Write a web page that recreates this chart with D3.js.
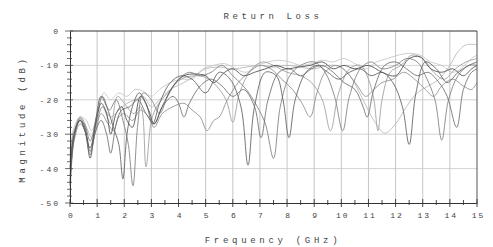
<!DOCTYPE html>
<html>
<head>
<meta charset="utf-8">
<script src="https://cdn.jsdelivr.net/npm/d3@7"></script>
<style>
  body { margin: 0; background: #fff; }
  svg { display: block; }
  text { font-family: "Liberation Mono", "DejaVu Sans Mono", monospace; fill: #444; }
</style>
</head>
<body>
<svg width="493" height="247"></svg>
<script>
// data: [GHz, dB]
var trace1 = [[0,-40],[0.15,-30],[0.37,-26],[0.55,-29],[0.74,-34],[0.95,-27],[1.15,-21],[1.35,-24],[1.5,-30],[1.7,-24],[1.9,-22],[2.1,-26],[2.3,-28],[2.6,-19],[2.9,-23],[3.1,-27],[3.4,-22],[3.8,-16],[4.2,-13],[4.6,-12.5],[5.0,-13],[5.3,-15],[5.7,-12],[6.0,-11],[6.4,-13],[6.8,-12],[7.2,-11],[7.6,-10],[8.0,-11],[8.4,-10.5],[8.85,-10],[9.3,-9],[9.7,-11],[10.1,-10],[10.5,-11],[11.0,-10],[11.5,-12],[12.0,-13],[12.5,-8],[12.9,-7.5],[13.3,-11],[13.7,-12],[14.1,-11],[14.5,-13],[14.8,-11],[15,-10]];
var trace2 = [[0,-45],[0.15,-31],[0.37,-25.5],[0.55,-28],[0.74,-37],[0.95,-26],[1.14,-19],[1.35,-22],[1.6,-28],[1.8,-33],[1.95,-43],[2.1,-30],[2.3,-22],[2.55,-18],[2.8,-21],[3.05,-27],[3.3,-21],[3.7,-15],[4.1,-13],[4.5,-14],[5.0,-18],[5.5,-12],[5.9,-14],[6.3,-22],[6.56,-39],[6.8,-22],[7.2,-12],[7.6,-13],[7.85,-20],[8.07,-31],[8.3,-20],[8.7,-12],[9.1,-10],[9.5,-12],[9.9,-14],[10.3,-12],[10.7,-11],[11.1,-13],[11.5,-12],[11.9,-15],[12.25,-22],[12.5,-33],[12.75,-18],[13.1,-9],[13.5,-11],[13.9,-15],[14.3,-12],[14.7,-10],[15,-9]];
var trace3 = [[0,-42],[0.15,-30],[0.37,-25],[0.55,-27],[0.74,-32],[1.0,-24],[1.2,-19],[1.45,-23],[1.7,-20],[1.95,-26],[2.15,-33],[2.32,-45],[2.5,-27],[2.7,-18],[3.0,-20],[3.3,-24],[3.6,-19],[4.0,-14],[4.4,-12],[4.8,-13],[5.2,-12],[5.6,-10],[6.0,-13],[6.5,-17],[6.9,-22],[7.2,-27],[7.5,-37],[7.75,-22],[8.1,-13],[8.5,-10],[9.0,-9],[9.4,-12],[9.75,-19],[10.05,-29],[10.3,-19],[10.7,-11],[11.1,-9],[11.5,-11],[12.0,-10],[12.4,-8],[12.8,-9],[13.1,-13],[13.45,-20],[13.7,-31.7],[13.95,-20],[14.3,-13],[14.7,-10],[15,-10]];
var trace4 = [[0,-38],[0.15,-29],[0.37,-26],[0.55,-28],[0.74,-35],[0.95,-28],[1.2,-22],[1.5,-27],[1.75,-19],[2.0,-21],[2.35,-24],[2.6,-22],[2.8,-39.5],[3.0,-26],[3.2,-22],[3.6,-18],[4.1,-14],[4.6,-13],[5.0,-13.5],[5.4,-16],[5.75,-20],[6.0,-26.5],[6.25,-18],[6.7,-11],[7.1,-9],[7.5,-10],[8.0,-12],[8.5,-13],[8.9,-15],[9.3,-20],[9.6,-29],[9.9,-18],[10.3,-11],[10.7,-10],[11.0,-14],[11.2,-20],[11.35,-29],[11.5,-20],[11.8,-12],[12.2,-10],[12.6,-7],[13.0,-8],[13.4,-12],[13.8,-14],[14.2,-11],[14.6,-9],[15,-8]];
var trace5 = [[0,-36],[0.15,-29],[0.37,-26],[0.6,-28],[0.8,-31],[1.0,-26],[1.2,-22],[1.5,-25],[1.8,-23],[2.1,-21],[2.4,-20],[2.7,-19],[3.0,-22],[3.3,-20],[3.7,-17],[4.2,-15],[4.6,-13],[5.0,-11],[5.5,-10.5],[6.0,-11],[6.5,-10.5],[7.0,-10],[7.5,-10.5],[8.0,-10],[8.5,-10.5],[9.0,-11],[9.5,-10],[10.0,-10.5],[10.4,-14],[10.8,-20],[11.2,-26],[11.6,-29.7],[12.0,-27],[12.4,-22],[12.8,-18],[13.2,-16],[13.6,-14],[14.0,-10],[14.3,-6],[14.6,-4],[15,-4]];
var trace6 = [[0,-44],[0.15,-31],[0.37,-26],[0.55,-29],[0.74,-36],[0.95,-29],[1.15,-26],[1.35,-30],[1.5,-35.5],[1.7,-27],[1.9,-23],[2.2,-22],[2.5,-20],[2.8,-24],[3.1,-27],[3.4,-22],[3.8,-19],[4.0,-21],[4.2,-25],[4.4,-21],[4.8,-16],[5.2,-14],[5.6,-16],[6.0,-19],[6.4,-17],[6.8,-22],[7.04,-31],[7.3,-20],[7.7,-12],[8.1,-11],[8.5,-13],[8.9,-11],[9.3,-10],[9.7,-12],[10.1,-15],[10.5,-17],[10.8,-22],[10.95,-25],[11.2,-17],[11.6,-10],[12.0,-9],[12.4,-11],[12.8,-13],[13.2,-12],[13.6,-15],[13.9,-19],[14.25,-28],[14.5,-17],[14.8,-12],[15,-11]];
var trace7 = [[0,-48],[0.15,-32],[0.37,-27],[0.55,-29],[0.74,-35],[0.95,-29],[1.15,-24],[1.4,-27],[1.6,-29],[1.8,-25],[2.0,-24],[2.3,-26],[2.6,-23],[2.9,-25],[3.1,-28],[3.4,-24],[3.8,-22],[4.2,-21],[4.5,-23],[4.8,-25],[5.05,-29],[5.3,-26],[5.5,-25],[5.8,-20],[6.2,-15],[6.6,-12],[7.0,-10],[7.4,-11],[7.8,-14],[8.2,-17],[8.55,-21],[8.85,-25],[9.1,-18],[9.4,-12],[9.8,-10],[10.2,-12],[10.6,-16],[10.9,-19],[11.2,-17],[11.5,-15],[11.9,-14],[12.3,-12],[12.7,-14],[13.1,-17],[13.4,-19],[13.7,-16],[14.1,-14],[14.5,-16],[14.8,-17],[15,-15]];
var trace8 = [[0,-35],[0.15,-28],[0.37,-25],[0.6,-26],[0.8,-29],[1.05,-23],[1.25,-18],[1.5,-20],[1.8,-18],[2.1,-19],[2.4,-17],[2.7,-17.5],[3.0,-19],[3.3,-17],[3.7,-15],[4.1,-14],[4.5,-14],[4.9,-11],[5.3,-10],[5.7,-9.5],[6.1,-11],[6.5,-12],[6.9,-10],[7.3,-9],[7.7,-8.5],[8.1,-9],[8.5,-10],[8.9,-9.5],[9.3,-8.5],[9.7,-9],[10.1,-8],[10.5,-9.5],[10.9,-11],[11.3,-9],[11.7,-8],[12.1,-7],[12.5,-6.5],[12.9,-7],[13.3,-9],[13.7,-10],[14.1,-12],[14.4,-11],[14.8,-8],[15,-7]];

var traces = [trace5, trace8, trace4, trace7, trace3, trace6, trace2, trace1];
var traceGrays = ["#bbbbbb", "#c8c8c8", "#a2a2a2", "#939393", "#848484", "#747474", "#666", "#555"];

var xTicks = d3.range(0, 16);
var yTicks = [0, -10, -20, -30, -40, -50];

var svg = d3.select("svg");
var padL = 70, padR = 477, padT = 31, padB = 203;

var x = d3.scaleLinear().domain([0, 15]).range([padL, padR]);
var y = d3.scaleLinear().domain([-50, 0]).range([padB, padT]);

// grid
svg.append("g").selectAll("line").data(xTicks.slice(1, -1)).enter().append("line")
  .attr("x1", d => x(d)).attr("x2", d => x(d))
  .attr("y1", padT).attr("y2", padB)
  .attr("stroke", "#b8b8b8").attr("stroke-width", 0.8);
svg.append("g").selectAll("line").data(yTicks.slice(1, -1)).enter().append("line")
  .attr("x1", padL).attr("x2", padR)
  .attr("y1", d => y(d)).attr("y2", d => y(d))
  .attr("stroke", "#c8c8c8").attr("stroke-width", 0.8);

// traces
var line = d3.line()
  .x(d => x(d[0]))
  .y(d => y(d[1]))
  .curve(d3.curveCatmullRom.alpha(0.5));

svg.append("g").selectAll("path").data(traces).enter().append("path")
  .attr("d", line)
  .attr("fill", "none")
  .attr("stroke", (d, i) => traceGrays[i])
  .attr("stroke-width", 0.9);

// frame
svg.append("line").attr("x1", padL).attr("x2", padR).attr("y1", padT).attr("y2", padT)
  .attr("stroke", "#333").attr("stroke-width", 1);
svg.append("line").attr("x1", padR).attr("x2", padR).attr("y1", padT).attr("y2", padB)
  .attr("stroke", "#555").attr("stroke-width", 1);

// axes
var xAxis = d3.axisBottom(x).tickValues(xTicks).tickSize(0).tickFormat(d3.format("d"));
var gx = svg.append("g").attr("transform", `translate(0,${padB})`).call(xAxis);
gx.select(".domain").attr("stroke", "#333");
gx.selectAll("text").attr("dy", "1.55em").style("font-size", "8px").style("letter-spacing", "2px")
  .attr("dx", "1px").attr("fill", "#444");
svg.append("g").selectAll("line").data(d3.range(0, 15.01, 0.5)).enter().append("line")
  .attr("x1", d => x(d)).attr("x2", d => x(d))
  .attr("y1", d => d % 1 === 0 ? padB - 4 : padB - 3)
  .attr("y2", d => d % 1 === 0 ? padB + 4 : padB + 2)
  .attr("stroke", "#333").attr("stroke-width", 0.9);

var yAxis = d3.axisLeft(y).tickValues(yTicks).tickSize(0).tickFormat(d => d === 0 ? "0" : "-" + Math.abs(d));
var gy = svg.append("g").attr("transform", `translate(${padL},0)`).call(yAxis);
gy.select(".domain").attr("stroke", "#333");
gy.selectAll("text").attr("dx", "-7px").style("font-size", "8px").style("letter-spacing", "2px").attr("fill", "#444");
svg.append("g").selectAll("line").data(d3.range(-50, 0.01, 2)).enter().append("line")
  .attr("x1", d => d % 10 === 0 ? padL - 5 : padL - 3)
  .attr("x2", d => d % 10 === 0 ? padL + 3 : padL + 2)
  .attr("y1", d => y(d)).attr("y2", d => y(d))
  .attr("stroke", "#444").attr("stroke-width", 0.8);

// titles
svg.append("text").attr("x", 273).attr("y", 19).attr("text-anchor", "middle")
  .style("font-size", "9px").style("letter-spacing", "3.6px").text("Return Loss");
svg.append("text").attr("x", 273).attr("y", 243).attr("text-anchor", "middle")
  .style("font-size", "9px").style("letter-spacing", "3.7px").text("Frequency (GHz)");
svg.append("text").attr("transform", "translate(25,119) rotate(-90)").attr("text-anchor", "middle")
  .style("font-size", "9px").style("letter-spacing", "3.7px").text("Magnitude (dB)");
</script>
</body>
</html>
